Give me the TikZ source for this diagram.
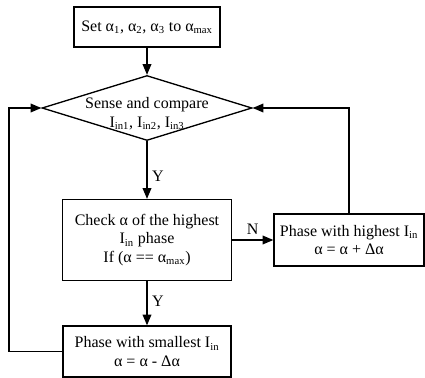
\documentclass[tikz,border=0pt]{standalone}
\usepackage{fontspec}
\setmainfont{Liberation Serif}
\usetikzlibrary{shapes.geometric,arrows.meta}
\newcommand{\lowsub}[1]{\textsubscript{#1}}

\begin{document}
\begin{tikzpicture}[x=0.75pt,y=-0.75pt,line width=1pt,
  every node/.style={font=\fontsize{12}{14}\selectfont, align=center},
  block/.style={draw, rectangle, inner sep=0pt},
  >={Triangle[length=8pt,width=6.5pt]}]

\useasboundingbox (0,0) rectangle (425,378);

%blocks
\node[block, minimum width=109.5pt, minimum height=30pt] at (147,27) (init) {Set α\lowsub{1}, α\lowsub{2}, α\lowsub{3} to α\lowsub{max}};
\node[draw, diamond, shape aspect=3.23, inner sep=-7pt, minimum width=157.5pt, minimum height=48.75pt,
  text height=32pt, text depth=3pt] at (147,108) (sense) {Sense and compare\\I\lowsub{in1}, I\lowsub{in2}, I\lowsub{in3}};
\node[block, minimum width=126.75pt, minimum height=60.75pt] at (147,240) (check) {Check α of the highest\\I\lowsub{in} phase\\If (α == α\lowsub{max})};
\node[block, minimum width=112.5pt, minimum height=39pt] at (349,240) (inc) {Phase with highest I\lowsub{in}\\α = α + Δα};
\node[block, minimum width=126pt, minimum height=38.25pt] at (147,351.5) (dec) {Phase with smallest I\lowsub{in}\\α = α - Δα};

\coordinate (leftturn) at (9,108);

%arrows
\draw[->] (init) -- (sense);
\draw[->] (sense) -- node[right, pos=0.6] {Y} (check);
\draw[->] (check) -- node[right, pos=0.45] {Y} (dec);
\draw[->] (check) -- node[above] {N} (inc);
\draw[->] (inc.north) |- (sense.east);
\draw[->] (dec.west) -| (leftturn) -- (sense.west);

\end{tikzpicture}
\end{document}
